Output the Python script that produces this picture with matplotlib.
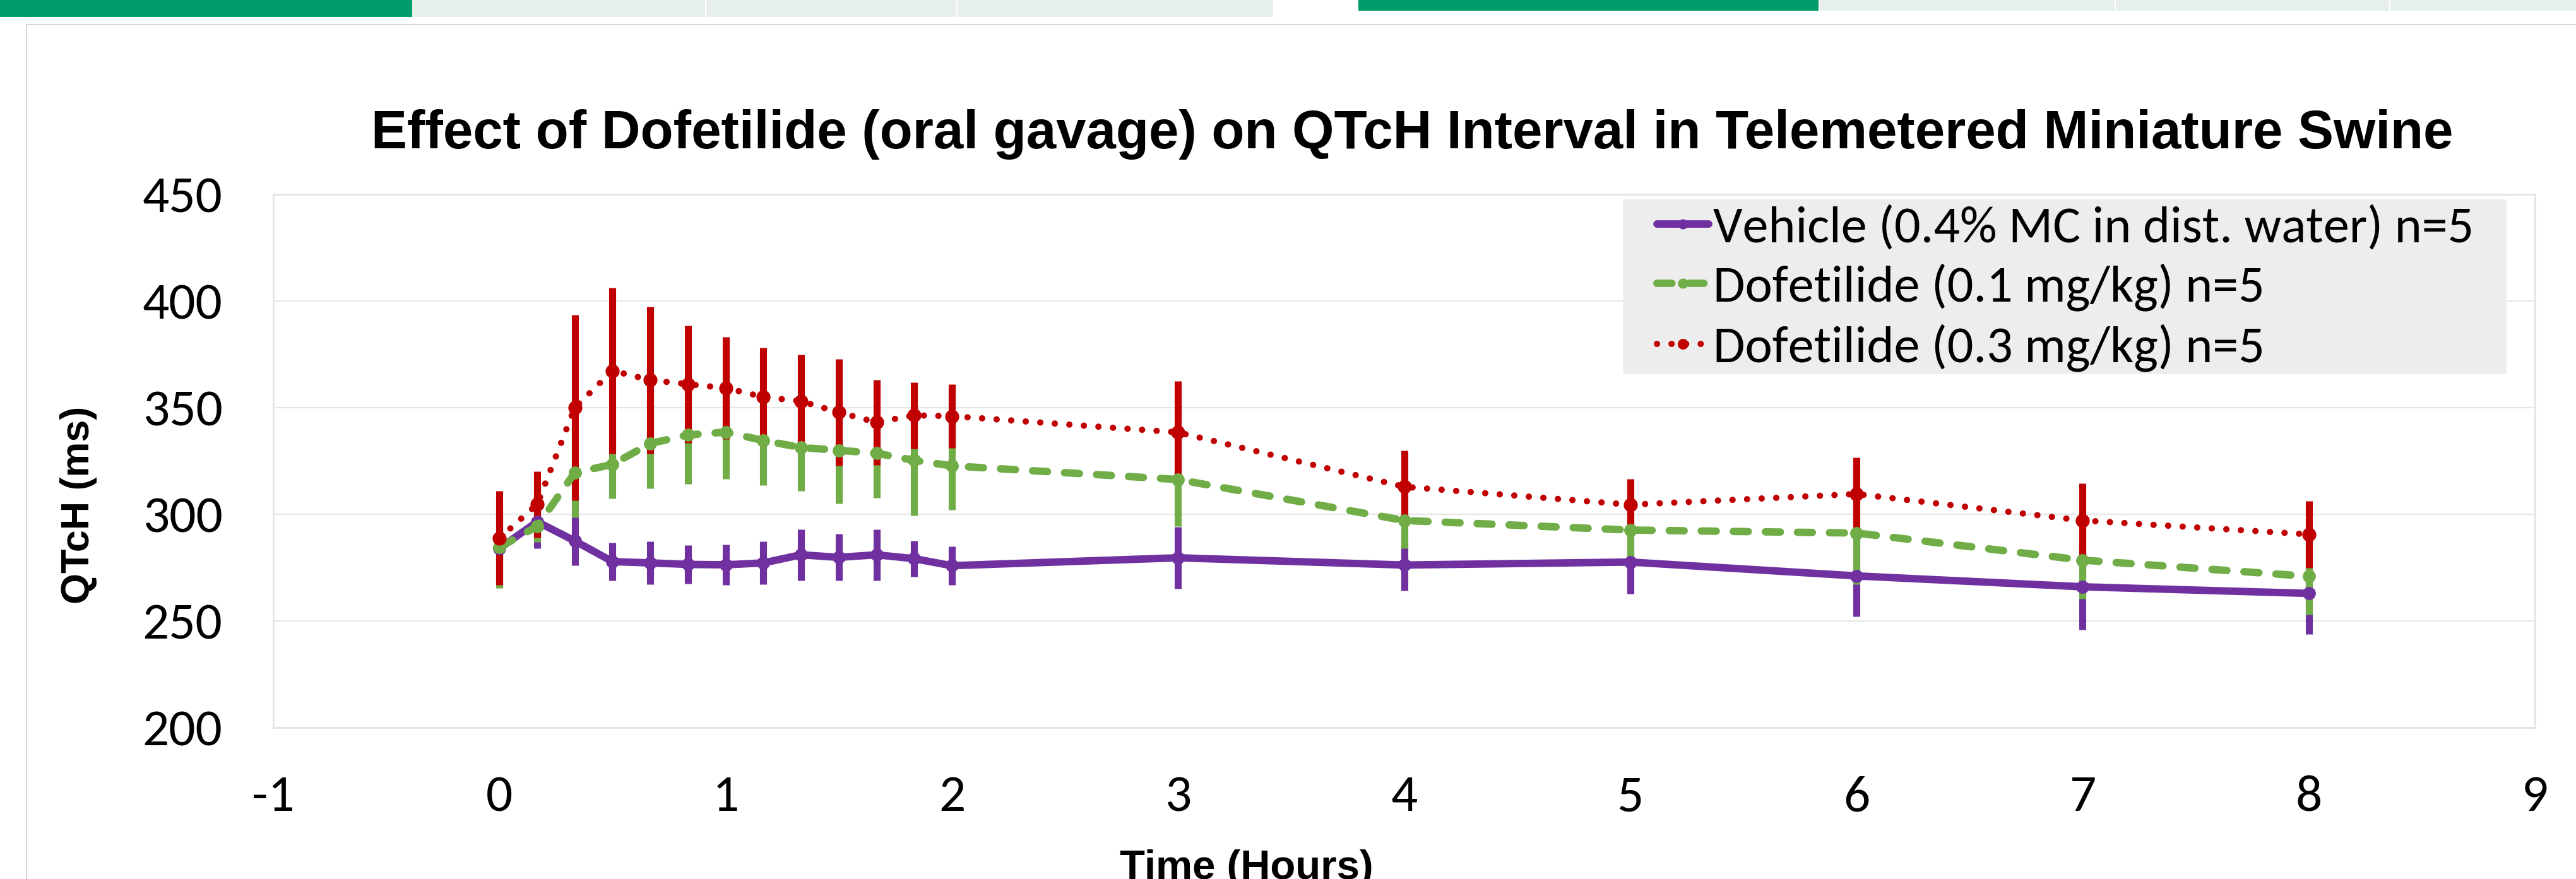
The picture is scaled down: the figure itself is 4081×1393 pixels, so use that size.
import matplotlib
matplotlib.use("Agg")
import matplotlib.pyplot as plt
from matplotlib import font_manager
from matplotlib.patches import Rectangle
from matplotlib.lines import Line2D

# ---------------- data ----------------
time_h = [0, 0.167, 0.333, 0.5, 0.667, 0.833, 1.0, 1.167, 1.333, 1.5, 1.667, 1.833, 2, 3, 4, 5, 6, 7, 8]

vehicle_mean = [284, 296.5, 287.5, 277.8, 277.2, 276.5, 276.3, 277.2, 281, 279.8, 281, 279.2, 275.9,
                279.6, 276.2, 277.6, 271.1, 266, 262.9]
vehicle_err = [16, 12.5, 11.6, 9, 10, 9, 9.5, 10, 12, 11, 12, 8.5, 9, 14.5, 12, 15, 19, 20, 19]

dof01_mean = [284.5, 294.4, 319.5, 323.4, 333.2, 337.2, 338.5, 334.6, 331.3, 330, 328.6, 325.3, 322.7,
              316.3, 297.1, 292.6, 291.2, 278.5, 270.9]
dof01_err = [19, 7.5, 21, 16, 21, 23, 22, 21, 20.5, 25, 21, 26, 20.5, 22, 13, 12.4, 24, 18, 18]

dof03_mean = [288.8, 304.7, 350, 367.3, 362.9, 361, 359.2, 355, 353, 347.8, 343.1, 346.4, 346,
              338.4, 312.9, 304.5, 309.5, 297.1, 290.6]
dof03_err = [22, 15.5, 43.6, 39, 34.4, 27.6, 24, 23, 22, 25, 20, 15.5, 15, 24, 17, 12, 17, 17.5, 15.6]

series_labels = ["Vehicle (0.4% MC in dist. water) n=5",
                 "Dofetilide (0.1 mg/kg) n=5",
                 "Dofetilide (0.3 mg/kg) n=5"]

title_text = "Effect of Dofetilide (oral gavage) on QTcH Interval in Telemetered Miniature Swine"
x_label = "Time (Hours)"
y_label = "QTcH (ms)"
x_ticks = [-1, 0, 1, 2, 3, 4, 5, 6, 7, 8, 9]
y_ticks = [200, 250, 300, 350, 400, 450]

# ---------------- fonts ----------------
available = {f.name for f in font_manager.fontManager.ttflist}


def pick(cands):
    for c in cands:
        if c in available:
            return c
    return "DejaVu Sans"


BODY = pick(["Carlito", "Lato", "Liberation Sans"])
BOLD = pick(["Liberation Sans Narrow", "Liberation Sans", "DejaVu Sans"])

W, H = 4081, 1393
fig = plt.figure(figsize=(W / 100, H / 100), dpi=100)
fig.patch.set_facecolor("white")


def fx(px):
    return px / W


def fy(py):
    return 1 - py / H


# ---------------- decorations (top tabs, panel border) ----------------
dark = "#009B6B"
light = "#E6EFEA"
tabs = [(0, 653, 27, dark), (653, 1117, 27, light), (1119, 1515, 27, light), (1517, 2017, 27, light),
        (2152, 2881, 17, dark), (2883, 3350, 17, light), (3352, 3785, 17, light), (3787, 4081, 17, light)]
for x0, x1, h, c in tabs:
    fig.add_artist(Rectangle((fx(x0), fy(h)), fx(x1 - x0), h / H, transform=fig.transFigure,
                             facecolor=c, edgecolor="none"))
fig.add_artist(Line2D([fx(42), fx(42)], [fy(39), 0], transform=fig.transFigure, color="#D9D9D9", lw=1.5))
fig.add_artist(Line2D([fx(42), 1], [fy(39), fy(39)], transform=fig.transFigure, color="#D9D9D9", lw=1.5))

# ---------------- axes ----------------
ax_l, ax_r, ax_t, ax_b = 433, 4016, 308, 1153
ax = fig.add_axes([fx(ax_l), fy(ax_b), fx(ax_r - ax_l), (ax_b - ax_t) / H])
ax.set_xlim(-1, 9)
ax.set_ylim(200, 450)
ax.set_xticks(x_ticks)
ax.set_yticks(y_ticks)
ax.set_xticklabels([str(v) for v in x_ticks])
ax.set_yticklabels([str(v) for v in y_ticks])
ax.tick_params(length=0, labelsize=60, colors="black")
ax.tick_params(axis="y", pad=58)
ax.tick_params(axis="x", pad=54)
for lab in ax.get_xticklabels() + ax.get_yticklabels():
    lab.set_family(BODY)
for s in ax.spines.values():
    s.set_color("#E3E3E3")
    s.set_linewidth(2.0)
ax.set_axisbelow(True)
ax.yaxis.grid(True, color="#E6E6E6", lw=1.6)
ax.xaxis.grid(False)

purple = "#7030A0"
green = "#70AD47"
red = "#C00000"

# error bars first
ax.errorbar(time_h, vehicle_mean, yerr=vehicle_err, fmt="none", ecolor=purple, elinewidth=8, capsize=0, zorder=2.0)
ax.errorbar(time_h, dof01_mean, yerr=dof01_err, fmt="none", ecolor=green, elinewidth=8, capsize=0, zorder=2.1)
ax.errorbar(time_h, dof03_mean, yerr=dof03_err, fmt="none", ecolor=red, elinewidth=8, capsize=0, zorder=2.2)

l1, = ax.plot(time_h, vehicle_mean, color=purple, lw=8.5, marker="o", ms=14, solid_capstyle="round",
              label=series_labels[0], zorder=3.0)
l2, = ax.plot(time_h, dof01_mean, color=green, lw=8.5, marker="o", ms=14, linestyle=(0, (2.0, 2.3)),
              dash_capstyle="round", label=series_labels[1], zorder=3.1)
l3, = ax.plot(time_h, dof03_mean, color=red, lw=7.2, marker="o", ms=15, linestyle=(0, (0.01, 2.3)),
              dash_capstyle="round", label=series_labels[2], zorder=3.2)

# legend background
ax.add_patch(Rectangle((fx(2571), fy(593)), fx(3971 - 2571), (593 - 316) / H, transform=fig.transFigure,
                       facecolor="#EDEDED", edgecolor="none", zorder=1.5, clip_on=False))

leg = ax.legend(handles=[l1, l2, l3], loc="upper left", bbox_to_anchor=(fx(2625), fy(326)),
                bbox_transform=fig.transFigure, frameon=False, borderpad=0, borderaxespad=0,
                handlelength=1.0, handletextpad=0.08, labelspacing=0.24, markerscale=0.75,
                prop={"family": BODY, "size": 59})
leg.set_zorder(5)

renderer = fig.canvas.get_renderer()


def width_for(text, family, weight, target, base=50):
    t = fig.text(0, 0, text, fontsize=base, family=family, weight=weight)
    w = t.get_window_extent(renderer).width
    t.remove()
    return base * target / w


# titles
title_size = width_for(title_text, BOLD, "bold", 3298)
fig.text(fx(2237), fy(235), title_text, fontsize=title_size, family=BOLD, weight="bold",
         ha="center", va="baseline")

xl_size = width_for(x_label, BOLD, "bold", 402)
fig.text(fx(1975), fy(1346), x_label, fontsize=xl_size, family=BOLD, weight="bold", ha="center", va="top")

yl_size = width_for(y_label, BOLD, "bold", 313)
fig.text(fx(125), fy(800), y_label, fontsize=yl_size, family=BOLD, weight="bold", rotation=90,
         ha="center", va="center")

fig.savefig("out.png", dpi=100, facecolor="white")
